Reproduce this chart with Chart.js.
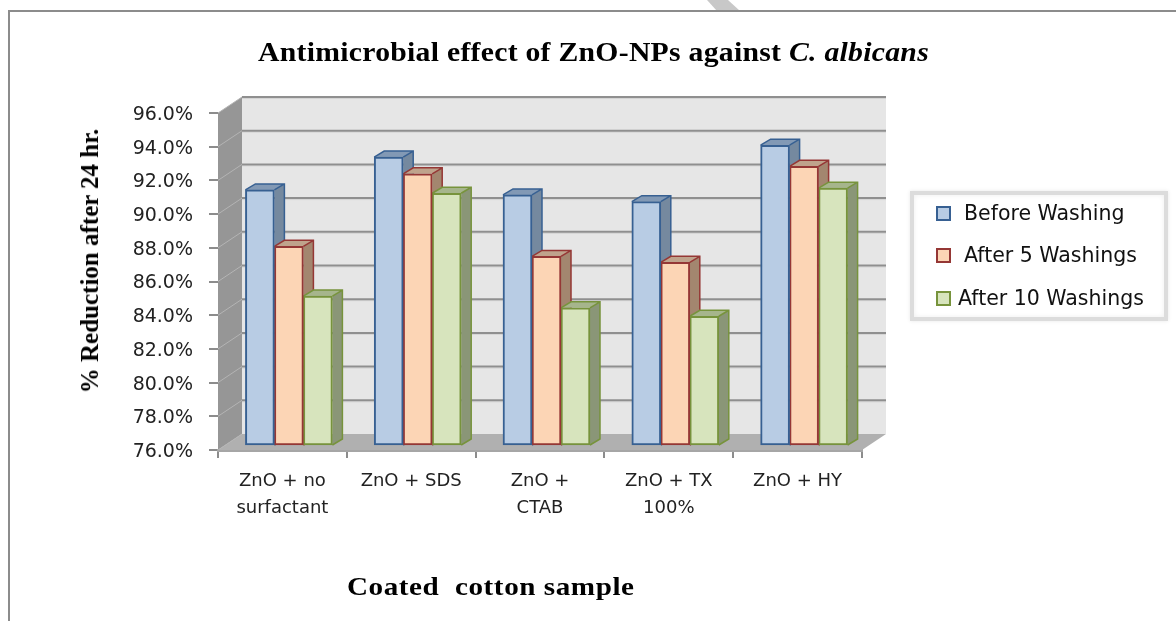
<!DOCTYPE html>
<html>
<head>
<meta charset="utf-8">
<title>Antimicrobial effect of ZnO-NPs</title>
<script src="https://cdn.jsdelivr.net/npm/chart.js@4"></script>
<style>
  html, body { margin: 0; padding: 0; background: #fff; }
  #page { position: relative; width: 1176px; height: 621px; overflow: hidden; }
  #frame { position: absolute; left: 8px; top: 10px; width: 1300px; height: 800px; border: 2px solid #8c8c8c; }
  #mark { position: absolute; left: 700px; top: 0; width: 45px; height: 12px; background: #c8c8c8;
          clip-path: polygon(7px 0, 28px 0, 40px 11px, 17px 11px); }
  canvas { position: absolute; left: 0; top: 0; }
  .txt { position: absolute; font-family: "Liberation Serif", serif; font-weight: bold; color: #000; white-space: pre; }
  #title { left: 258px; top: 37px; font-size: 27px; letter-spacing: 0.25px; transform: scaleX(1.1); transform-origin: left center; }
  #xTitle { left: 347px; top: 572px; font-size: 26px; letter-spacing: 0.5px; transform: scaleX(1.12); transform-origin: left center; }
  #yTitle { left: 90px; top: 261px; font-size: 25px; transform: translate(-50%, -50%) rotate(-90deg); }
  #legend { position: absolute; left: 910px; top: 191px; width: 250px; height: 122px; border: 4px solid #dcdcdc;
            box-shadow: 0 0 4px #e8e8e8, inset 0 0 5px #eee; background: #fff; }
  .row { position: absolute; left: 0; height: 24px; font: 20.5px "DejaVu Sans", sans-serif; color: #111; white-space: pre; line-height: 24px; }
  .swatch { position: absolute; left: 22px; width: 11px; height: 11px; border: 2px solid; }
</style>
</head>
<body>
<div id="page">
  <div id="mark"></div>
  <div id="frame"></div>
  <canvas id="reductionChart" width="1176" height="621"></canvas>
  <div class="txt" id="title">Antimicrobial effect of ZnO-NPs against <i>C. albicans</i></div>
  <div class="txt" id="yTitle">% Reduction after 24 hr.</div>
  <div class="txt" id="xTitle">Coated  cotton sample</div>
  <div id="legend"></div>
</div>
<script>
const categories = [['ZnO + no', 'surfactant'], 'ZnO + SDS', ['ZnO +', 'CTAB'], ['ZnO + TX', '100%'], 'ZnO + HY'];
const seriesNames = ['Before Washing', 'After 5 Washings', 'After 10 Washings'];
const beforeWashing = [91.2, 93.15, 90.9, 90.5, 93.85];
const after5Washings = [87.85, 92.15, 87.25, 86.9, 92.6];
const after10Washings = [84.9, 91.0, 84.2, 83.7, 91.3];
const axisMin = 76;
const axisMax = 96;

const fillColors = ['#b8cce4', '#fcd5b5', '#d7e4bd'];
const borderColors = ['#376092', '#953735', '#77933c'];
const sideColors = ['#75899f', '#a3866f', '#8a9677'];
const topColors = ['#8299b5', '#bfa38c', '#a6b58c'];

// 3D look: depth of the chart box, of the bars, and where the bars sit in the box
const boxDepth = { x: 24, y: -16 };
const barDepth = { x: 10, y: -6 };
const barShift = { x: 6.5, y: -4 };

function poly(ctx, pts, fill) {
  ctx.beginPath();
  pts.forEach((p, i) => i ? ctx.lineTo(p[0], p[1]) : ctx.moveTo(p[0], p[1]));
  ctx.closePath();
  ctx.fillStyle = fill;
  ctx.fill();
}

// Walls, floor and grid lines behind the bars
const boxPlugin = {
  id: 'box',
  beforeDatasetsDraw(chart) {
    const { ctx, chartArea: a, scales } = chart;
    const dx = boxDepth.x, dy = boxDepth.y;
    ctx.save();
    poly(ctx, [[a.left + dx, a.top + dy], [a.right + dx, a.top + dy], [a.right + dx, a.bottom + dy], [a.left + dx, a.bottom + dy]], '#e6e6e6');
    poly(ctx, [[a.left, a.top], [a.left + dx, a.top + dy], [a.left + dx, a.bottom + dy], [a.left, a.bottom]], '#969696');
    poly(ctx, [[a.left, a.bottom], [a.left + dx, a.bottom + dy], [a.right + dx, a.bottom + dy], [a.right, a.bottom]], '#b0b0b0');
    scales.y.ticks.forEach(t => {
      const y = scales.y.getPixelForValue(t.value);
      if (t.value > scales.y.min) {
        ctx.fillStyle = '#d4d4d4';
        ctx.fillRect(a.left + dx, y + dy + 1, a.right - a.left, 1);
        ctx.strokeStyle = '#8f8f8f';
        ctx.lineWidth = 2;
        ctx.beginPath();
        ctx.moveTo(a.left + dx, y + dy);
        ctx.lineTo(a.right + dx, y + dy);
        ctx.stroke();
      }
      ctx.strokeStyle = '#b4b4b4';
      ctx.lineWidth = 1;
      ctx.beginPath();
      ctx.moveTo(a.left, y);
      ctx.lineTo(a.left + dx, y + dy);
      ctx.stroke();
    });
    ctx.restore();

    // bars are drawn by the library, shifted into the box; sides and tops go under them
    ctx.save();
    ctx.translate(barShift.x, barShift.y);
    chart.data.datasets.forEach((ds, i) => {
      chart.getDatasetMeta(i).data.forEach(bar => {
        const l = bar.x - bar.width / 2, r = bar.x + bar.width / 2, t = bar.y, b = bar.base;
        const ox = barDepth.x, oy = barDepth.y;
        const side = [[r, t], [r + ox, t + oy], [r + ox, b + oy], [r, b]];
        const top = [[l, t], [l + ox, t + oy], [r + ox, t + oy], [r, t]];
        poly(ctx, side, sideColors[i]);
        poly(ctx, top, topColors[i]);
        ctx.strokeStyle = borderColors[i];
        ctx.lineWidth = 1.5;
        ctx.beginPath();
        ctx.moveTo(l, t);
        ctx.lineTo(l + ox, t + oy);
        ctx.lineTo(r + ox, t + oy);
        ctx.lineTo(r + ox, b + oy);
        ctx.lineTo(r, b);
        ctx.moveTo(r + ox, t + oy);
        ctx.lineTo(r, t);
        ctx.stroke();
      });
    });
  },
  afterDatasetsDraw(chart) {
    chart.ctx.restore();
  }
};

const reductionChart = new Chart(document.getElementById('reductionChart').getContext('2d'), {
  type: 'bar',
  plugins: [boxPlugin],
  data: {
    labels: categories,
    datasets: [
      { label: seriesNames[0], data: beforeWashing },
      { label: seriesNames[1], data: after5Washings },
      { label: seriesNames[2], data: after10Washings }
    ].map((ds, i) => ({
      ...ds,
      base: axisMin,
      backgroundColor: fillColors[i],
      borderColor: borderColors[i],
      borderWidth: 2,
      borderSkipped: false,
      barThickness: 29,
      clip: false
    }))
  },
  options: {
    responsive: false,
    animation: false,
    layout: { padding: { left: 100, right: 314, top: 113, bottom: 20 } },
    plugins: { legend: { display: false }, tooltip: { enabled: false } },
    scales: {
      x: {
        afterFit(scale) { scale.height = 151; },
        grid: { drawOnChartArea: false, offset: true, tickLength: 8, color: '#8c8c8c', lineWidth: 2, tickWidth: 2 },
        border: { color: '#a6a6a6', width: 3 },
        ticks: {
          color: '#222',
          maxRotation: 0,
          padding: 10,
          font: { family: '"DejaVu Sans", sans-serif', size: 18, lineHeight: '27px' }
        }
      },
      y: {
        min: axisMin,
        max: axisMax,
        afterFit(scale) { scale.width = 118; },
        grid: { drawOnChartArea: false, tickLength: 9, color: '#8c8c8c', lineWidth: 2, tickWidth: 2 },
        border: { display: false },
        ticks: {
          stepSize: 2,
          color: '#222',
          padding: 16,
          labelOffset: 2,
          callback: v => v.toFixed(1) + '%',
          font: { family: '"DejaVu Sans", sans-serif', size: 19 }
        }
      }
    }
  }
});

// Legend box, same names and colours as the datasets
const legendBox = document.getElementById('legend');
const legendText = [{ x: 50, y: 6 }, { x: 50, y: 48 }, { x: 44, y: 91 }];
seriesNames.forEach((name, i) => {
  const sw = document.createElement('div');
  sw.className = 'swatch';
  sw.style.top = (legendText[i].y + 5) + 'px';
  sw.style.background = fillColors[i];
  sw.style.borderColor = borderColors[i];
  legendBox.appendChild(sw);
  const row = document.createElement('div');
  row.className = 'row';
  row.textContent = name;
  row.style.left = legendText[i].x + 'px';
  row.style.top = legendText[i].y + 'px';
  legendBox.appendChild(row);
});
</script>
</body>
</html>
